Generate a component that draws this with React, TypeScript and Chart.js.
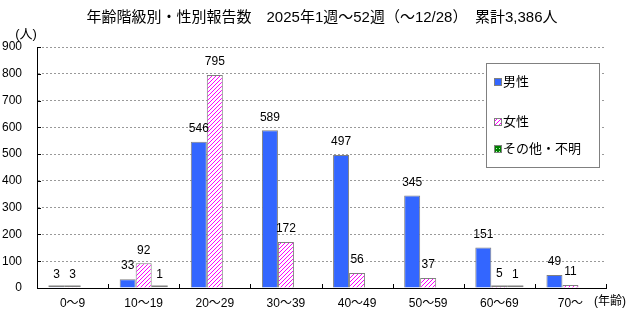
import React, { useEffect, useRef } from 'react';
import { Chart, registerables } from 'chart.js';

Chart.register(...registerables);

const TITLE = '年齢階級別・性別報告数　2025年1週～52週（～12/28）　累計3,386人';
const categories = ['0～9', '10～19', '20～29', '30～39', '40～49', '50～59', '60～69', '70～'];
const maleValues = [3, 33, 546, 589, 497, 345, 151, 49];
const femaleValues = [3, 92, 795, 172, 56, 37, 5, 11];
const otherValues = [0, 1, 0, 0, 0, 0, 1, 0];
const seriesNames = ['男性', '女性', 'その他・不明'];
const yMax = 900;
const yStep = 100;

const FONT = '"Liberation Sans", "Noto Sans CJK JP", sans-serif';

function makeHatch(): CanvasPattern | string {
  const c = document.createElement('canvas');
  c.width = 4;
  c.height = 4;
  const g = c.getContext('2d');
  if (!g) return '#ff00ff';
  g.fillStyle = '#ffffff';
  g.fillRect(0, 0, 4, 4);
  g.fillStyle = '#ff00ff';
  g.fillRect(3, 0, 1, 1);
  g.fillRect(2, 1, 1, 1);
  g.fillRect(1, 2, 1, 1);
  g.fillRect(0, 3, 1, 1);
  return g.createPattern(c, 'repeat') || '#ff00ff';
}

function makeDots(): CanvasPattern | string {
  const c = document.createElement('canvas');
  c.width = 3;
  c.height = 3;
  const g = c.getContext('2d');
  if (!g) return '#008000';
  g.fillStyle = '#008000';
  g.fillRect(0, 0, 3, 3);
  g.fillStyle = '#b0ffb0';
  g.fillRect(1, 1, 1, 1);
  return g.createPattern(c, 'repeat') || '#008000';
}

export default function App() {
  const ref = useRef<HTMLCanvasElement | null>(null);

  useEffect(() => {
    const canvas = ref.current;
    if (!canvas) return;
    const hatch = makeHatch();
    const dots = makeDots();
    const fills: any[] = ['#3366ff', hatch, dots];

    const labelPlugin = {
      id: 'valueLabels',
      afterDatasetsDraw(chart: any) {
        const ctx = chart.ctx;
        ctx.save();
        ctx.font = '12px ' + FONT;
        ctx.textAlign = 'center';
        ctx.textBaseline = 'middle';
        chart.data.datasets.forEach((ds: any, di: number) => {
          const meta = chart.getDatasetMeta(di);
          meta.data.forEach((el: any, i: number) => {
            const v = ds.data[i];
            if (!v) return;
            const base = el.base;
            if (Math.abs(base - el.y) < 2) {
              ctx.fillStyle = '#808080';
              ctx.fillRect(el.x - el.width / 2, base - 2, el.width, 1.5);
            }
            ctx.fillStyle = '#000';
            ctx.fillText(String(v), el.x, el.y - 13);
          });
        });
        ctx.restore();
      },
    };

    const decorPlugin = {
      id: 'decor',
      afterDraw(chart: any) {
        const ctx = chart.ctx;
        const area = chart.chartArea;
        ctx.save();
        ctx.strokeStyle = '#000';
        ctx.lineWidth = 1;
        ctx.beginPath();
        const ys = chart.scales.y;
        for (let v = 0; v <= yMax; v += yStep) {
          const py = Math.round(ys.getPixelForValue(v)) + 0.5;
          ctx.moveTo(area.left, py);
          ctx.lineTo(area.left + 4, py);
        }
        const n = categories.length;
        for (let i = 0; i <= n; i++) {
          const px = Math.round(area.left + (i * (area.right - area.left)) / n) + 0.5;
          ctx.moveTo(px, area.bottom);
          ctx.lineTo(px, area.bottom - 4);
        }
        ctx.stroke();

        ctx.fillStyle = '#000';
        ctx.textBaseline = 'middle';
        ctx.font = '15px ' + FONT;
        ctx.textAlign = 'center';
        ctx.fillText(TITLE, 322, 18);
        ctx.font = '13px ' + FONT;
        ctx.fillText('(人)', 26, 34);
        ctx.textAlign = 'left';
        ctx.font = '12px ' + FONT;
        ctx.fillText('(年齢)', 594, 302);

        ctx.fillStyle = '#ffffff';
        ctx.fillRect(486, 63, 113, 104);
        ctx.strokeStyle = '#808080';
        ctx.lineWidth = 1;
        ctx.strokeRect(486.5, 63.5, 113, 104);
        const ly = [82, 122, 149];
        ctx.font = '13px ' + FONT;
        seriesNames.forEach((name, i) => {
          const y = ly[i];
          ctx.fillStyle = fills[i];
          ctx.fillRect(495, y - 3, 6, 6);
          ctx.strokeStyle = '#808080';
          ctx.strokeRect(494.5, y - 3.5, 7, 7);
          ctx.fillStyle = '#000';
          ctx.fillText(name, 503, y);
        });
        ctx.restore();
      },
    };

    const chart = new Chart(canvas, {
      type: 'bar',
      data: {
        labels: categories,
        datasets: [
          { label: seriesNames[0], data: maleValues, backgroundColor: fills[0], borderColor: '#808080', borderWidth: 1 },
          { label: seriesNames[1], data: femaleValues, backgroundColor: fills[1], borderColor: '#808080', borderWidth: 1 },
          { label: seriesNames[2], data: otherValues, backgroundColor: fills[2], borderColor: '#808080', borderWidth: 1 },
        ],
      },
      options: {
        responsive: false,
        animation: false,
        devicePixelRatio: 1,
        layout: { padding: { top: 47, right: 34, left: 0, bottom: 12 } },
        datasets: { bar: { categoryPercentage: 0.675, barPercentage: 1.0 } },
        plugins: {
          legend: { display: false },
          title: { display: false },
          tooltip: { enabled: false },
        },
        scales: {
          x: {
            grid: { display: false, drawTicks: false, tickLength: 0, offset: true },
            border: { display: true, color: '#000', width: 1 },
            ticks: { color: '#000', font: { size: 12, family: FONT }, padding: 8, maxRotation: 0, autoSkip: false },
            afterFit(scale: any) { scale.height = 24; },
          },
          y: {
            min: 0,
            max: yMax,
            ticks: { stepSize: yStep, color: '#000', font: { size: 12, family: FONT }, padding: 15 },
            grid: { color: '#999999', drawTicks: false, lineWidth: 1 },
            border: { display: true, color: '#000', width: 1, dash: [2, 2] },
            afterFit(scale: any) { scale.width = 37; },
          },
        },
      },
      plugins: [labelPlugin, decorPlugin],
    } as any);

    return () => chart.destroy();
  }, []);

  return (
    <div style={{ position: 'absolute', left: 0, top: 0, width: 640, height: 324, background: '#fff' }}>
      <canvas ref={ref} width={640} height={324} style={{ display: 'block', width: 640, height: 324 }} />
    </div>
  );
}
